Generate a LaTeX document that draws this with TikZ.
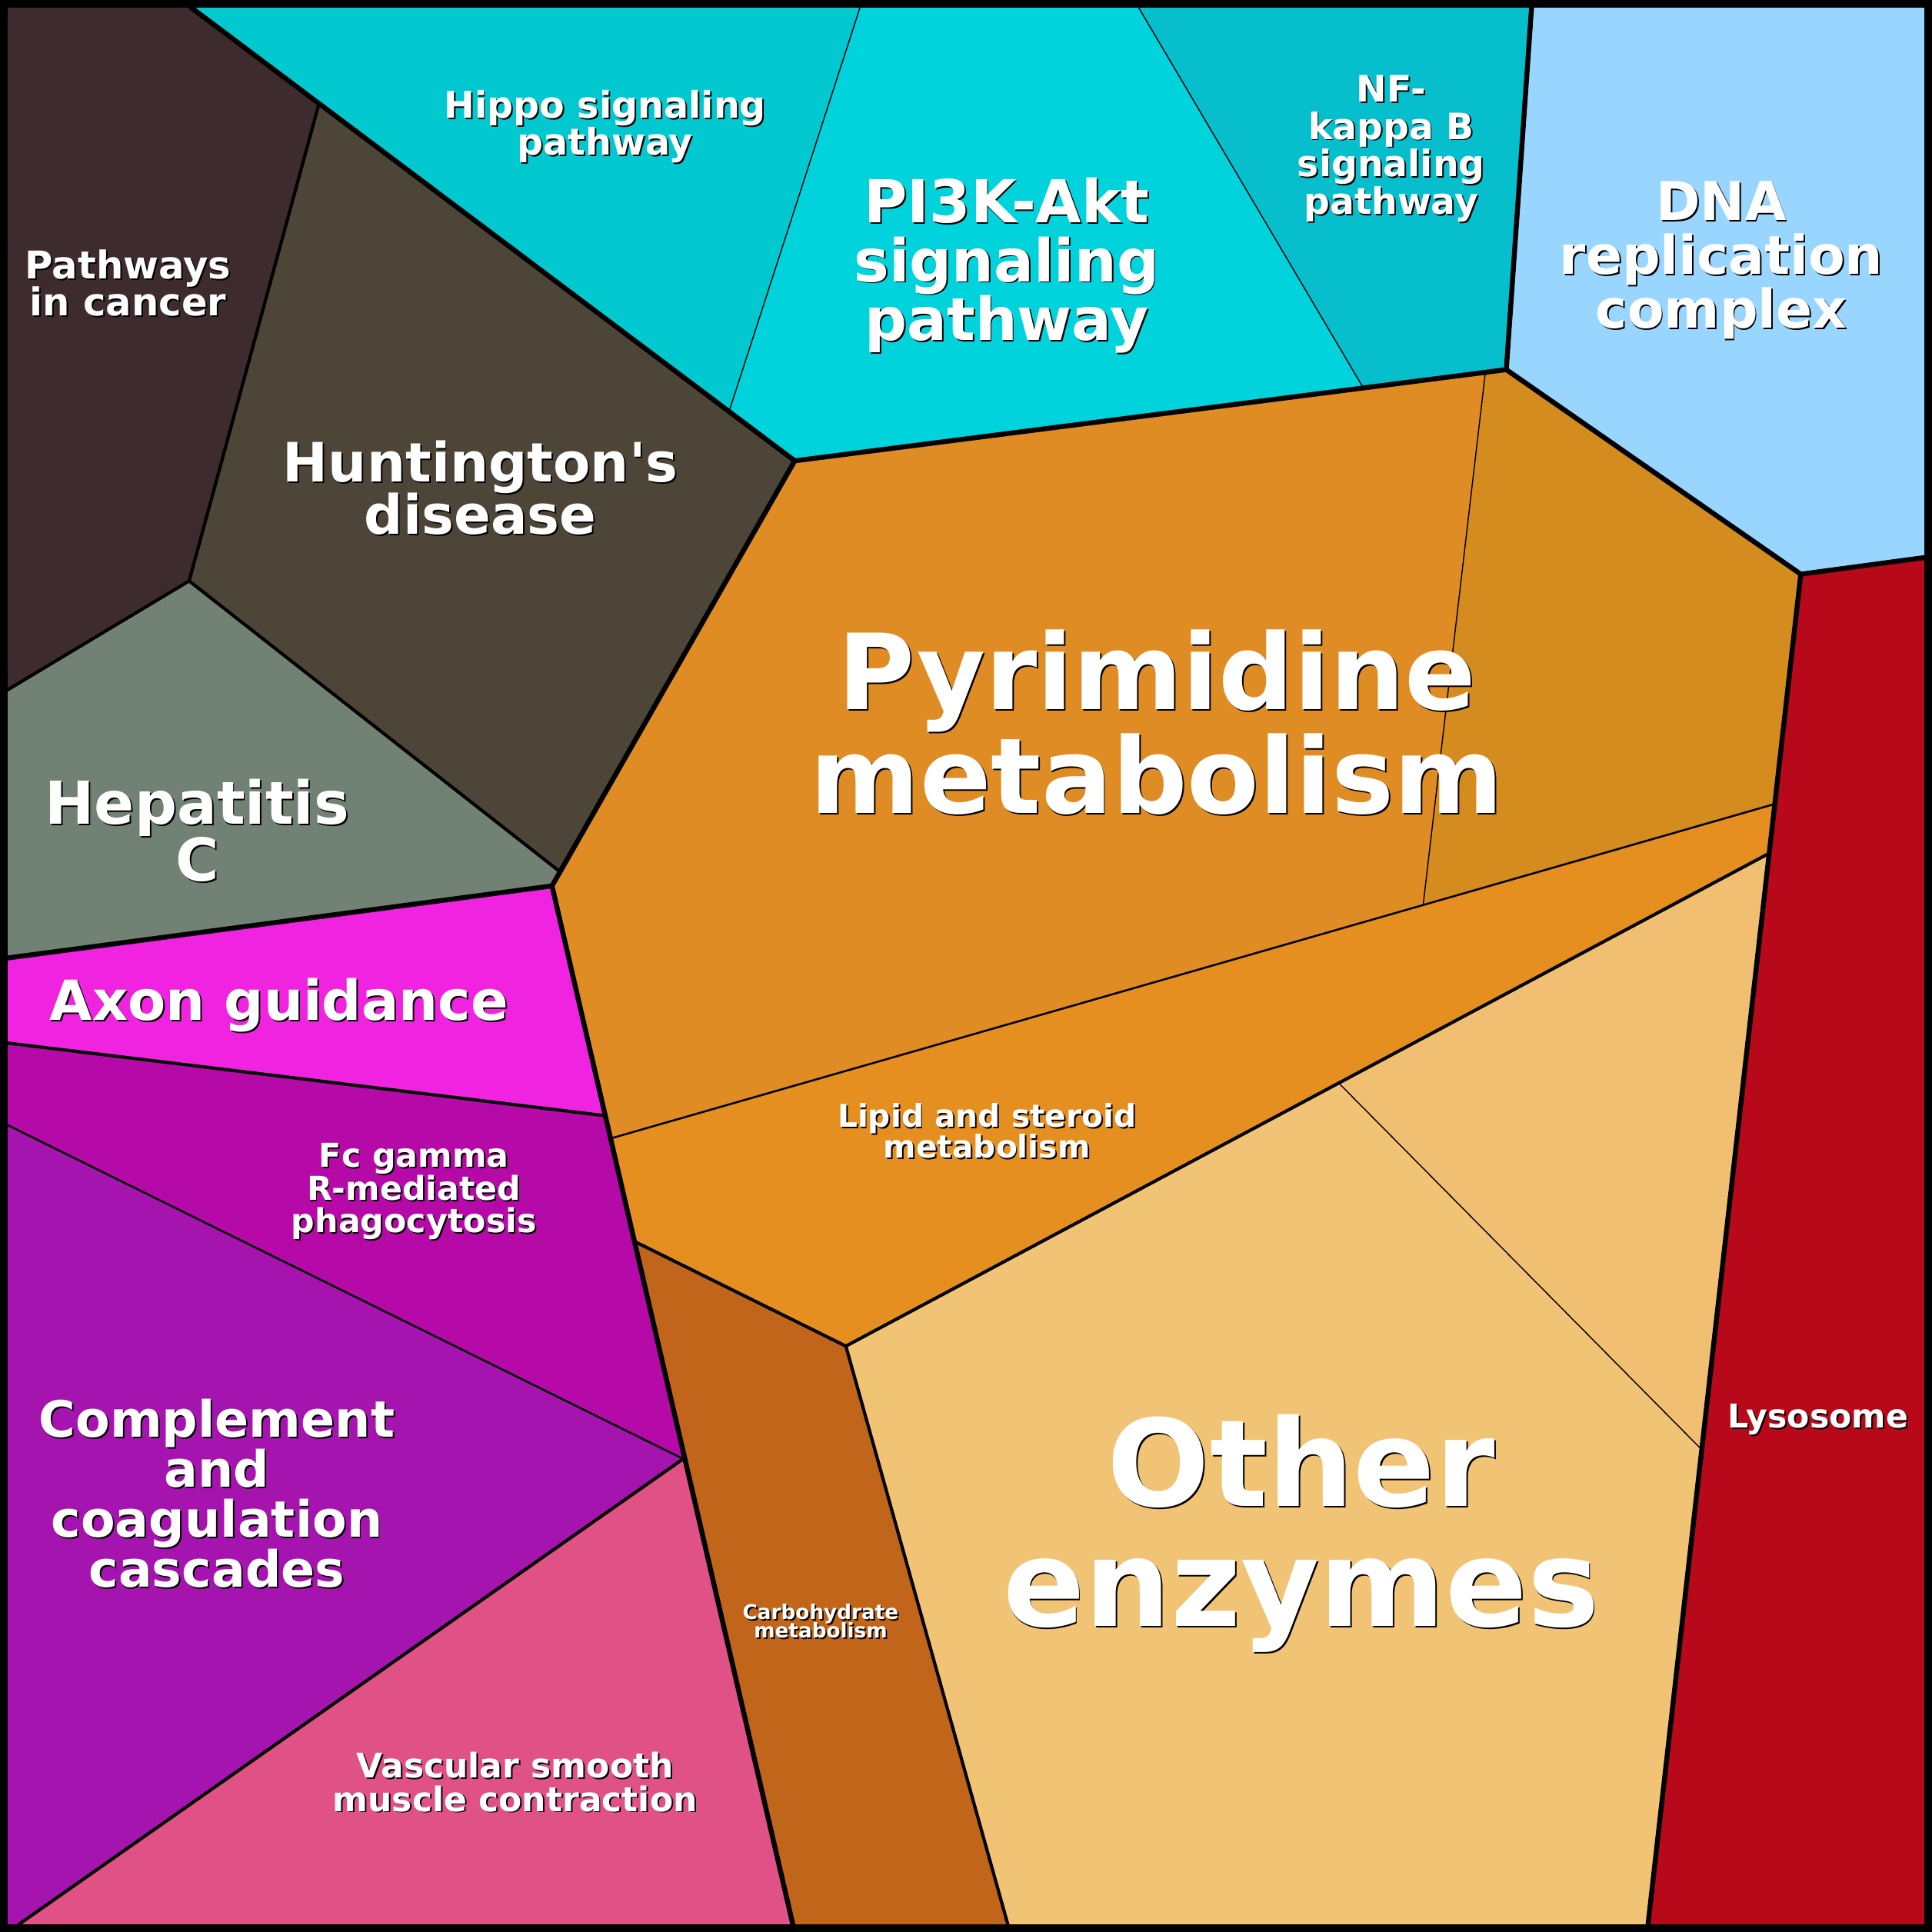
\documentclass[tikz,border=0pt]{standalone}
\usepackage{fontspec}
\setmainfont{DejaVu Sans}
\usetikzlibrary{calc}
\definecolor{cPath}{HTML}{3E2B2E}
\definecolor{cHunt}{HTML}{4D4538}
\definecolor{cHep}{HTML}{718173}
\definecolor{cHippo}{HTML}{02C9D0}
\definecolor{cPik}{HTML}{00D3DB}
\definecolor{cNfkb}{HTML}{07BFCC}
\definecolor{cDna}{HTML}{99D6FF}
\definecolor{cPyr}{HTML}{E08C24}
\definecolor{cPyrB}{HTML}{D38C1D}
\definecolor{cLip}{HTML}{E48F1F}
\definecolor{cCarb}{HTML}{C0651A}
\definecolor{cOth}{HTML}{F1C475}
\definecolor{cOthB}{HTML}{F0BF72}
\definecolor{cLys}{HTML}{B8091A}
\definecolor{cAxon}{HTML}{F024E0}
\definecolor{cFc}{HTML}{B60AA8}
\definecolor{cComp}{HTML}{A614B0}
\definecolor{cVasc}{HTML}{E05186}
\tikzset{
  cell/.style={draw=none},
  thickb/.style={line width=4pt,line join=round,line cap=round},
  midb/.style={line width=2.6pt,line join=round,line cap=round},
  thinb/.style={line width=1.6pt,line cap=round},
  hairb/.style={line width=0.9pt,line cap=round},
  lbl/.style={text=white,anchor=base,align=center,inner sep=0pt},
  lblsh/.style={text=black,anchor=base,align=center,inner sep=0pt},
}
\newcommand\lab[6]{%
  \node[lblsh,font={\fontsize{#4}{#5}\selectfont\bfseries\lineskiplimit=-100pt}] (#1-sh) at ({#2+1.2},{#3+1.2}) {#6};
  \node[lbl,font={\fontsize{#4}{#5}\selectfont\bfseries\lineskiplimit=-100pt}] (#1) at (#2,#3) {#6};}
\begin{document}
\begin{tikzpicture}[x=1pt,y=-1pt]
\useasboundingbox (0,0) rectangle (1568,1568);
\fill[black] (0,0) rectangle (1568,1568);
% vertices
\coordinate (A) at (6,6);
\coordinate (B) at (155,6);
\coordinate (C) at (258.9,84);
\coordinate (D) at (153.5,471.5);
\coordinate (E) at (6,560);
\coordinate (F) at (454.5,707.5);
\coordinate (G) at (645,374);
\coordinate (H) at (448,719);
\coordinate (I) at (6,777.5);
\coordinate (J) at (698,6);
\coordinate (K) at (591.7,334);
\coordinate (L) at (924,6);
\coordinate (M) at (1106.5,314.9);
\coordinate (N) at (1243,6);
\coordinate (O) at (1222.5,300);
\coordinate (P) at (1562,6);
\coordinate (Q) at (1562,452.5);
\coordinate (R) at (1461.5,466);
\coordinate (S) at (1205.5,302.2);
\coordinate (T) at (1155,734.5);
\coordinate (U) at (1440.4,652.5);
\coordinate (V) at (495.5,924);
\coordinate (W) at (1435.9,692.5);
\coordinate (X) at (514.9,1007.5);
\coordinate (Y) at (686.5,1092.5);
\coordinate (Z) at (491.2,905.5);
\coordinate (AA) at (6,846.5);
\coordinate (AB) at (6,913);
\coordinate (AC) at (554.5,1184);
\coordinate (AD) at (15,1562);
\coordinate (AE) at (6,1562);
\coordinate (AF) at (643.5,1562);
\coordinate (AG) at (818,1562);
\coordinate (AH) at (1337.5,1562);
\coordinate (AI) at (1562,1562);
\coordinate (AJ) at (1086.5,879);
\coordinate (AK) at (1381.1,1176.5);
% cells
\fill[cPath] (A) -- (B) -- (C) -- (D) -- (E) -- cycle;
\fill[cHunt] (C) -- (G) -- (F) -- (D) -- cycle;
\fill[cHep] (E) -- (D) -- (F) -- (H) -- (I) -- cycle;
\fill[cHippo] (B) -- (J) -- (K) -- cycle;
\fill[cPik] (J) -- (L) -- (M) -- (G) -- (K) -- cycle;
\fill[cNfkb] (L) -- (N) -- (O) -- (M) -- cycle;
\fill[cDna] (N) -- (P) -- (Q) -- (R) -- (O) -- cycle;
\fill[cLys] (R) -- (Q) -- (AI) -- (AH) -- cycle;
\fill[cPyr] (G) -- (S) -- (T) -- (V) -- (H) -- cycle;
\fill[cPyrB] (S) -- (O) -- (R) -- (U) -- (T) -- cycle;
\fill[cLip] (V) -- (U) -- (W) -- (Y) -- (X) -- cycle;
\fill[cCarb] (X) -- (Y) -- (AG) -- (AF) -- cycle;
\fill[cOth] (Y) -- (AJ) -- (AK) -- (AH) -- (AG) -- cycle;
\fill[cOthB] (AJ) -- (W) -- (AK) -- cycle;
\fill[cAxon] (I) -- (H) -- (Z) -- (AA) -- cycle;
\fill[cFc] (AA) -- (Z) -- (AC) -- (AB) -- cycle;
\fill[cComp] (AB) -- (AC) -- (AD) -- (AE) -- cycle;
\fill[cVasc] (AC) -- (AF) -- (AD) -- cycle;
% thin borders
\draw[hairb] (J) -- (K);
\draw[hairb] (L) -- (M);
\draw[hairb] (S) -- (T);
\draw[hairb] (AJ) -- (AK);
\draw[thinb] (V) -- (U);
\draw[thinb] (AB) -- (AC);
% mid borders
\draw[midb] (C) -- (D) -- (E);
\draw[midb] (D) -- (F);
\draw[midb] (AA) -- (Z);
\draw[midb] (AC) -- (AD);
\draw[midb] (X) -- (Y) -- (W);
\draw[midb] (Y) -- (AG);
% thick borders
\draw[thickb] (B) -- (G) -- (H) -- (I);
\draw[thickb] (G) -- (O) -- (N);
\draw[thickb] (O) -- (R) -- (Q);
\draw[thickb] (R) -- (AH);
\draw[thickb] (H) -- (AF);
% frame
\draw[line width=6pt] (3,3) rectangle (1565,1565);
% labels (y = baseline of last line)
\lab{lPath}{104}{256.5}{31}{30}{Pathways\\in cancer}
\lab{lHippo}{491}{126}{29.7}{30}{Hippo signaling\\pathway}
\lab{lHunt}{390}{433.5}{44}{42.5}{Huntington\textquotesingle s\\disease}
\lab{lHep}{160}{715}{48}{46}{Hepatitis\\C}
\lab{lPik}{817}{276}{48}{47.5}{PI3K-Akt\\signaling\\pathway}
\lab{lNfkb}{1129}{174}{29.5}{30.5}{NF-\\kappa B\\signaling\\pathway}
\lab{lDna}{1397}{266}{43.3}{43.5}{DNA\\replication\\complex}
\lab{lPyr}{939}{660}{85.2}{84}{Pyrimidine\\metabolism}
\lab{lLip}{801}{940}{25.4}{25}{Lipid and steroid\\metabolism}
\lab{lFc}{336}{1000.5}{26.7}{26.5}{Fc gamma\\R-mediated\\phagocytosis}
\lab{lAxon}{226.5}{828}{44.8}{43}{Axon guidance}
\lab{lComp}{176}{1288}{40.6}{40.5}{Complement\\and\\coagulation\\cascades}
\lab{lVasc}{418}{1470}{27.5}{27}{Vascular smooth\\muscle contraction}
\lab{lCarb}{666}{1329}{16.4}{15}{Carbohydrate\\metabolism}
\lab{lOth}{1056}{1320}{98}{97.5}{Other\\enzymes}
\lab{lLys}{1475.5}{1159}{26.6}{26.6}{Lysosome}
\end{tikzpicture}
\end{document}
